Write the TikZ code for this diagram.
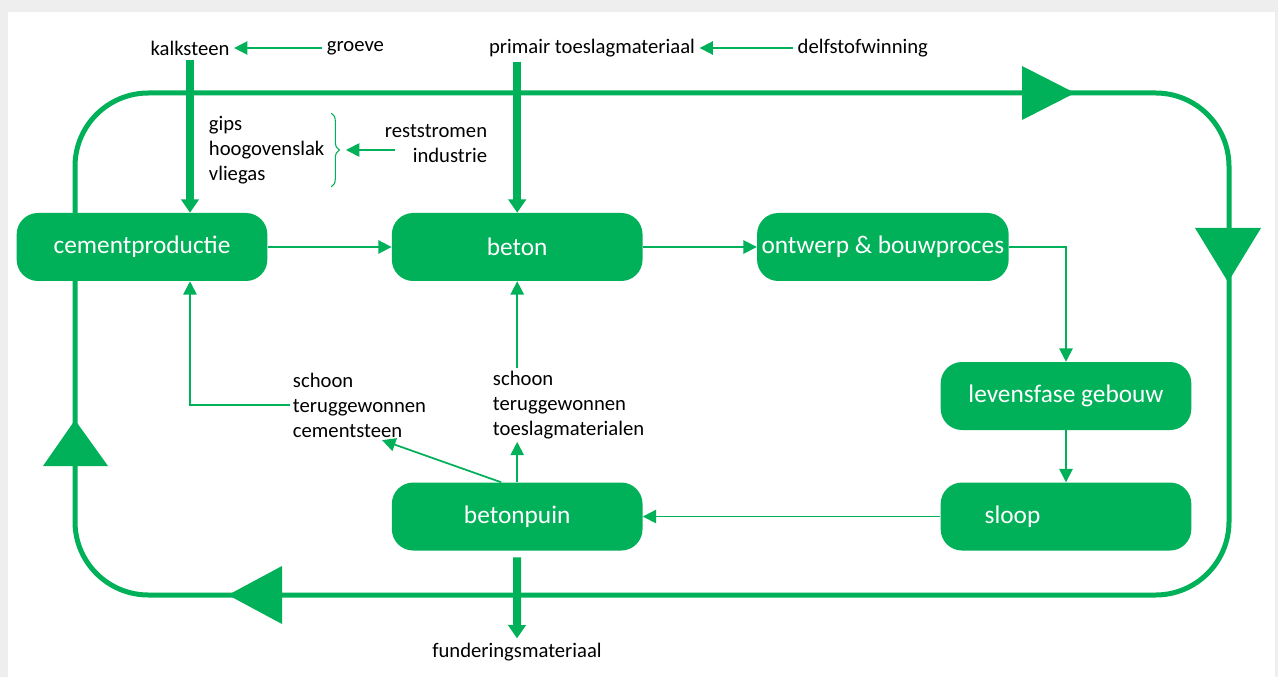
\documentclass[tikz,border=0pt]{standalone}
\usepackage{fontspec}
\setmainfont{Carlito}
\usepackage{tikz}
\usetikzlibrary{positioning, arrows.meta}
\usetikzlibrary{decorations.pathreplacing}
\usepackage{xcolor}
\definecolor{mGreen}{HTML}{00B159}
\definecolor{mFrame}{HTML}{EEEEEE}
\tikzset{
  font=\fontsize{15.5}{18.75}\selectfont,
  stage/.style={rectangle, rounded corners=16pt, fill=mGreen, text=white, minimum width=188pt, minimum height=51pt, font=\fontsize{19}{22}\selectfont},
  flow/.style={draw=mGreen, line width=1.3pt, -{Triangle[length=10pt, width=10pt]}},
  feed/.style={draw=mGreen, line width=6pt, -{Triangle[length=10pt, width=13pt]}},
  cycleline/.style={draw=mGreen, line width=3.75pt, rounded corners=55pt},
  stack/.style={align=left, inner sep=2pt}
}

\begin{document}
\begin{tikzpicture}[x=0.75pt, y=-0.75pt]
  \useasboundingbox (0,0) rectangle (1278,677);
  \fill[mFrame] (0,0) rectangle (1278,677);
  \fill[white] (8,12) rectangle (1275,677);

  % big loop with its four arrow heads
  \draw[cycleline] (75,93) rectangle (1229,595);
  \fill[mGreen] (1022,66) -- (1075,93) -- (1022,120) -- cycle;
  \fill[mGreen] (1195,228) -- (1228,282) -- (1261,228) -- cycle;
  \fill[mGreen] (282,566) -- (228,595) -- (282,624) -- cycle;
  \fill[mGreen] (43,466) -- (75,420) -- (108,466) -- cycle;

  % sources
  \node (kalk) at (190,48) {kalksteen};
  \node[right=66pt of kalk] (groeve) {groeve};
  \node (primair) at (592,48) {primair toeslagmateriaal};
  \node[right=70pt of primair] (delf) {delfstofwinning};
  \node[stack, anchor=west] (rawmix) at (206,150) {gips\\ hoogovenslak\\ vliegas};
  \node[align=right, inner sep=2pt] (residue) at (436,144) {reststromen\\ industrie};

  % stages
  \node[stage] (cement) at (142,247) {cementproductie};
  \node[stage, right=93pt of cement] (beton) {beton};
  \node[stage, right=85.5pt of beton] (ontwerp) {ontwerp \& bouwproces};
  \node[stage] (levens) at (1066,396) {levensfase gebouw};
  \node[stage, below=39pt of levens, text width=122pt, inner xsep=33pt, align=left] (sloop) {sloop};
  \node[stage] (puin) at (beton |- sloop) {betonpuin};

  % recovered materials
  \node[stack, anchor=west] (cleancem) at (290,405) {schoon\\ teruggewonnen\\ cementsteen};
  \node[stack, anchor=west] (cleanagg) at (490,405) {schoon\\ teruggewonnen\\ toeslagmaterialen};
  \node (fund) at (517,652) {funderingsmateriaal};

  \draw[decorate, decoration={brace, amplitude=6pt}, draw=mGreen, line width=0.8pt]
    ([xshift=3pt]rawmix.north east) -- ([xshift=3pt]rawmix.south east)
    node[midway, coordinate, xshift=7pt] (bracetip) {};

  \draw[flow] (groeve) -- (kalk);
  \draw[flow] (delf) -- (primair);
  \draw[flow, shorten <=-10pt] (residue.west |- bracetip) -- ([xshift=4pt]bracetip);
  \draw[feed] (kalk.south) -- (kalk |- cement.north);
  \draw[feed] (beton |- primair.south) -- (beton.north);

  \draw[flow] (cement) -- (beton);
  \draw[flow] (beton) -- (ontwerp);
  \draw[flow] (ontwerp.east) -| (levens.north);
  \draw[flow] (levens) -- (sloop);
  \draw[flow] (sloop) -- (puin);
  \draw[flow] (puin.north) -- (puin.north |- cleanagg.south);
  \draw[flow] ([xshift=-12pt]puin.north) -- ([xshift=17pt]cleancem.south);
  \draw[flow] (cleancem.west) -| (kalk |- cement.south);
  \draw[flow] (beton |- cleanagg.north) -- (beton.south);
  \draw[feed, shorten <=5pt] (puin.south) -- (fund.north);
\end{tikzpicture}
\end{document}
